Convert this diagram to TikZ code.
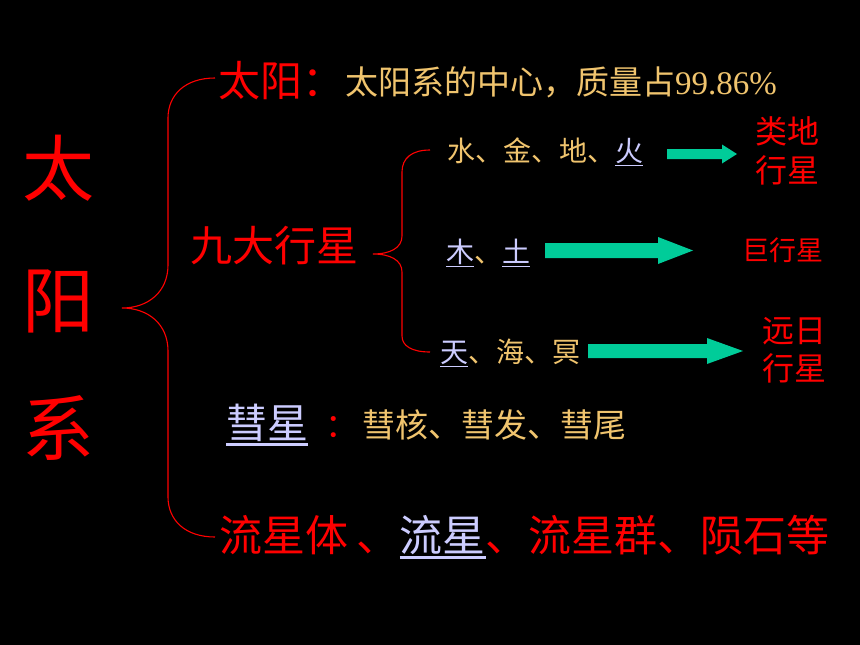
\documentclass[tikz,border=0pt]{standalone}
\usepackage{fontspec}
\setmainfont{Liberation Serif}
\newfontfamily\cjk{Noto Sans CJK SC}
\definecolor{gold}{RGB}{240,196,110}
\definecolor{lav}{RGB}{204,204,255}
\definecolor{tealarrow}{RGB}{0,204,153}
\newcommand\fsz[1]{\fontsize{#1}{#1}\selectfont\cjk}
\newcommand\ulx[1]{\setbox0=\hbox{#1}\rlap{\rule[-0.17em]{\wd0}{0.06em}}\box0}
\tikzset{
  txt/.style={inner sep=0pt, anchor=base west},
  bracepath/.style={draw=red, line width=1.1pt},
  blockarrow/.style={fill=tealarrow},
}
\begin{document}
\begin{tikzpicture}[x=1pt,y=-1pt]
\fill[black] (0,0) rectangle (860,645);
\useasboundingbox (0,0) rectangle (860,645);

% big title
\node[inner sep=0pt, anchor=base, text=red, font=\fsz{72}] (sysA) at (58,195.4) {太};
\node[inner sep=0pt, anchor=base, text=red, font=\fsz{72}] (sysB) at (58,327.4) {阳};
\node[inner sep=0pt, anchor=base, text=red, font=\fsz{72}] (sysC) at (58,455.4) {系};

% sun
\node[txt, text=red, font=\fsz{42}] (sun) at (218,96) {太阳：};
\node[txt, text=gold, font=\fsz{33}] (suninfo) at (345,94) {太阳系的中心，质量占{\rmfamily 99.86\%}};

% planets
\node[txt, text=red, font=\fsz{42}] (planets) at (190,261) {九大行星};
\node[txt, text=gold, font=\fsz{28}] (rowA) at (447,161.6) {水、金、地、\textcolor{lav}{\ulx{火}}};
\node[txt, text=gold, font=\fsz{28}] (rowB) at (446,262.6) {\textcolor{lav}{\ulx{木}}、\textcolor{lav}{\ulx{土}}};
\node[txt, text=gold, font=\fsz{28}] (rowC) at (440,362.6) {\textcolor{lav}{\ulx{天}}、海、冥};

\node[txt, text=red, font=\fsz{32}] (terrA) at (755,143.2) {类地};
\node[txt, text=red, font=\fsz{32}] (terrB) at (755,182.2) {行星};
\node[txt, text=red, font=\fsz{27}] (giant) at (742,260.3) {巨行星};
\node[txt, text=red, font=\fsz{32}] (farA) at (762,342.2) {远日};
\node[txt, text=red, font=\fsz{32}] (farB) at (762,380.2) {行星};

% block arrows
\fill[blockarrow] (667,149) -- (722,149) -- (722,144.5) -- (737,154) -- (722,163.5) -- (722,159) -- (667,159) -- cycle;
\fill[blockarrow] (545,243) -- (658,243) -- (658,237) -- (693,250.5) -- (658,264) -- (658,258) -- (545,258) -- cycle;
\fill[blockarrow] (588,344) -- (707,344) -- (707,338) -- (743,351) -- (707,364) -- (707,358) -- (588,358) -- cycle;

% comet
\node[txt, text=lav, font=\fsz{41}] (comet) at (226,438.6) {\ulx{彗星}};
\node[txt, text=red, font=\fsz{33}] (cometcolon) at (325,437.5) {：};
\node[txt, text=gold, font=\fsz{33}] (cometinfo) at (362,437.5) {彗核、彗发、彗尾};

% meteors
\node[txt, text=red, font=\fsz{43}] (meteor) at (219,551.3) {流星体\hspace{0.2em}、\textcolor{lav}{\ulx{流星}}、流星群、陨石等};

% braces
\draw[bracepath] (215,78) .. controls (185,78) and (168,95) .. (168,118) -- (168,265)
  .. controls (168,292) and (148,308) .. (122,308)
  .. controls (148,308) and (168,324) .. (168,351) -- (168,497)
  .. controls (168,520) and (185,537) .. (215,537);
\draw[bracepath] (430,150) .. controls (412,150) and (402,158) .. (402,172) -- (402,236)
  .. controls (402,248) and (390,254) .. (373,254)
  .. controls (390,254) and (402,260) .. (402,272) -- (402,336)
  .. controls (402,346) and (412,352) .. (430,352);
\end{tikzpicture}
\end{document}
